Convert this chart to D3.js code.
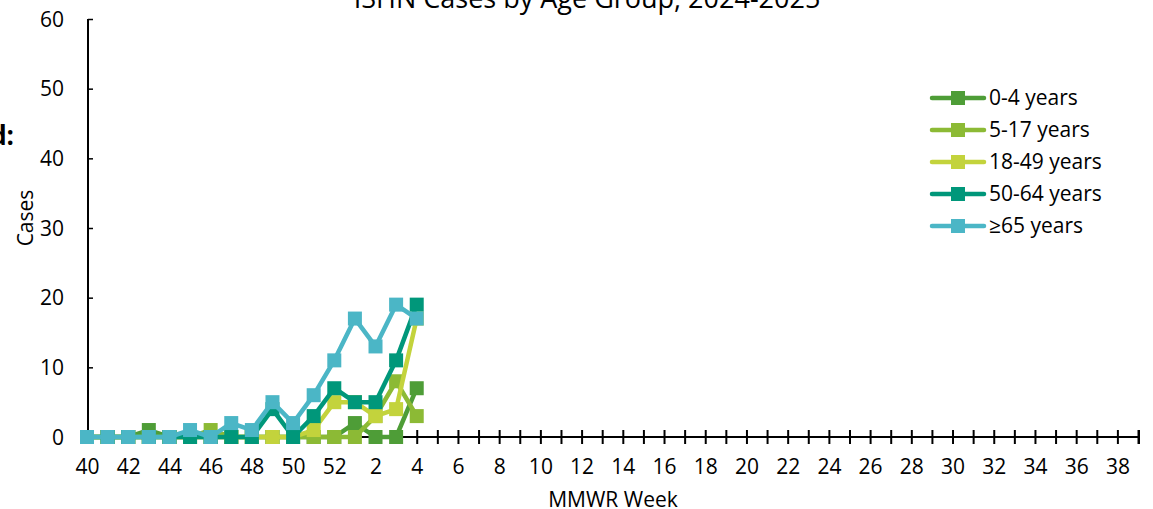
<!DOCTYPE html>
<html>
<head>
<meta charset="utf-8">
<script src="https://cdn.jsdelivr.net/npm/d3@7"></script>
<style>
  body { margin: 0; background: #fff; }
  text { font-family: "Open Sans", "Noto Sans", sans-serif; fill: #000; }
</style>
</head>
<body>
<div class="chart-container"></div>
<script>
// MMWR weeks of the season, 40..52 then 1..39
const weeks = [40, 41, 42, 43, 44, 45, 46, 47, 48, 49, 50, 51, 52,
  1, 2, 3, 4, 5, 6, 7, 8, 9, 10, 11, 12, 13, 14, 15, 16, 17, 18, 19, 20,
  21, 22, 23, 24, 25, 26, 27, 28, 29, 30, 31, 32, 33, 34, 35, 36, 37, 38, 39];

const groups = ["0-4 years", "5-17 years", "18-49 years", "50-64 years", "≥65 years"];
const groupColors = ["#4E9D37", "#8CBA35", "#C3D33C", "#00977A", "#4BB6C6"];

// reported weeks only (40 .. 4)
const cases0to4   = [0, 0, 0, 1, 0, 0, 0, 0, 0, 0, 0, 0, 0, 2, 0, 0, 7];
const cases5to17  = [0, 0, 0, 0, 0, 0, 1, 0, 0, 0, 0, 0, 0, 0, 3, 8, 3];
const cases18to49 = [0, 0, 0, 0, 0, 0, 0, 0, 0, 0, 0, 1, 5, 5, 3, 4, 17];
const cases50to64 = [0, 0, 0, 0, 0, 0, 0, 0, 0, 4, 0, 3, 7, 5, 5, 11, 19];
const cases65plus = [0, 0, 0, 0, 0, 1, 0, 2, 1, 5, 2, 6, 11, 17, 13, 19, 17];

const yTicks = [0, 10, 20, 30, 40, 50, 60];

const allSeries = [cases0to4, cases5to17, cases18to49, cases50to64, cases65plus];

const width = 1153, height = 509;

const svg = d3.select(".chart-container")
  .append("svg")
  .attr("width", width)
  .attr("height", height);

// weeks are categories, one slot each
const x = d3.scalePoint()
  .domain(d3.range(weeks.length))
  .range([87, 1138]);

const y = d3.scaleLinear()
  .domain([0, 60])
  .range([437, 19]);

// title (cut off at top in the original)
svg.append("text")
  .attr("x", 587)
  .attr("y", 8)
  .attr("text-anchor", "middle")
  .attr("font-size", 27)
  .text("ISHN Cases by Age Group, 2024-2025");

svg.append("text")
  .attr("x", 14)
  .attr("y", 145)
  .attr("text-anchor", "end")
  .attr("font-size", 26)
  .attr("font-weight", "bold")
  .text("d:");

// y axis, ticks pointing inward
const yAxis = svg.append("g")
  .attr("transform", "translate(88,0)")
  .call(d3.axisRight(y).tickValues(yTicks).tickSize(5).tickFormat(d3.format("d")));
yAxis.select(".domain").attr("d", "M0," + y(60) + "V" + y(0)).attr("stroke-width", 2);
yAxis.selectAll(".tick line").attr("stroke-width", 1.5);
yAxis.selectAll(".tick text")
  .attr("x", -24)
  .attr("text-anchor", "end")
  .attr("font-size", 21)
  .attr("dy", "0.34em");

// x axis with cross ticks on every week, labels every second week
const xAxis = svg.append("g")
  .attr("transform", "translate(0," + y(0) + ")")
  .call(d3.axisBottom(x).tickSize(0).tickFormat(i => (i % 2 === 0 ? weeks[i] : "")));
xAxis.select(".domain").attr("d", "M88,0H1139").attr("stroke-width", 2);
xAxis.selectAll(".tick").filter(i => i > 0).append("line")
  .attr("y1", -7).attr("y2", 7)
  .attr("stroke", "#000").attr("stroke-width", 2);
xAxis.append("line")
  .attr("x1", 1139).attr("x2", 1139).attr("y1", -7).attr("y2", 7)
  .attr("stroke", "#000").attr("stroke-width", 2);
xAxis.selectAll(".tick text")
  .attr("y", 30)
  .attr("dy", "0.34em")
  .attr("font-size", 21);

svg.append("text")
  .attr("transform", "translate(33,218) rotate(-90)")
  .attr("text-anchor", "middle")
  .attr("font-size", 21)
  .text("Cases");

svg.append("text")
  .attr("x", 613)
  .attr("y", 507)
  .attr("text-anchor", "middle")
  .attr("font-size", 21)
  .text("MMWR Week");

// series lines + square markers
const line = d3.line()
  .x((d, i) => x(i))
  .y(d => y(d));

const gSeries = svg.selectAll(".series")
  .data(allSeries)
  .enter()
  .append("g")
  .attr("class", "series");

gSeries.append("path")
  .attr("d", d => line(d))
  .attr("fill", "none")
  .attr("stroke", (d, i) => groupColors[i])
  .attr("stroke-width", 4.5)
  .attr("stroke-linejoin", "round");

gSeries.each(function (d, si) {
  d3.select(this).selectAll("rect")
    .data(d)
    .enter()
    .append("rect")
    .attr("x", (v, i) => x(i) - 7)
    .attr("y", v => y(v) - 7)
    .attr("width", 14)
    .attr("height", 14)
    .attr("fill", groupColors[si]);
});

// legend
const legend = svg.append("g")
  .selectAll(".legend-item")
  .data(groups)
  .enter()
  .append("g")
  .attr("class", "legend-item")
  .attr("transform", (d, i) => "translate(930," + (98 + i * 32) + ")");

legend.append("line")
  .attr("x1", 2).attr("x2", 54)
  .attr("stroke", (d, i) => groupColors[i])
  .attr("stroke-width", 4.5)
  .attr("stroke-linecap", "round");
legend.append("rect")
  .attr("x", 21).attr("y", -7)
  .attr("width", 14).attr("height", 14)
  .attr("fill", (d, i) => groupColors[i]);
legend.append("text")
  .attr("x", 59)
  .attr("dy", "0.35em")
  .attr("font-size", 21)
  .text(d => d);
</script>
</body>
</html>
